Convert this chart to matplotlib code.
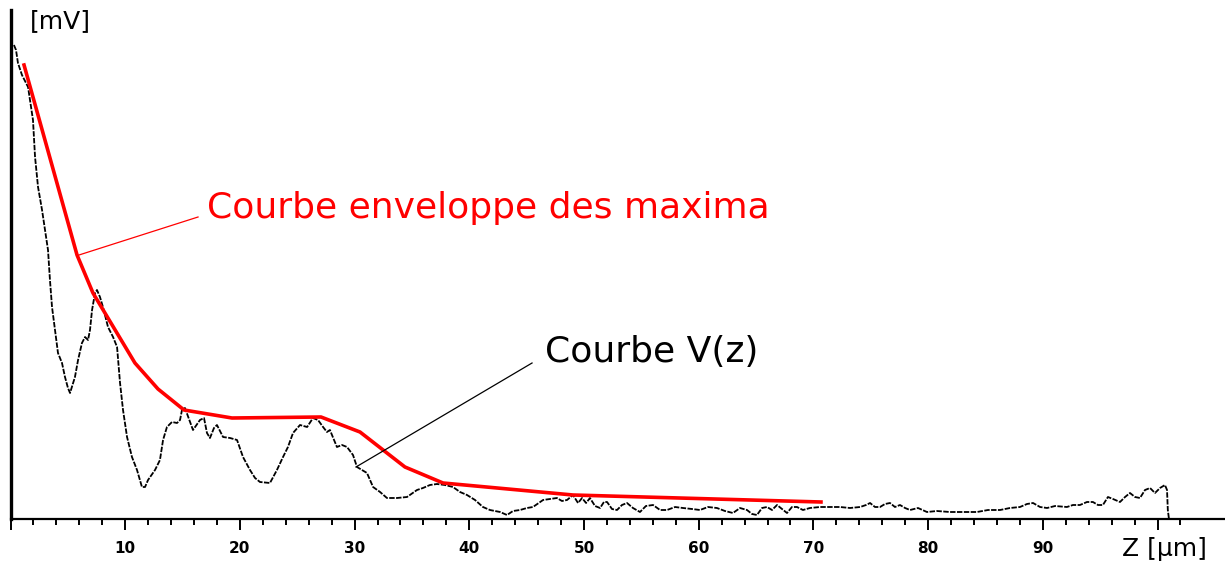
import numpy as np
import matplotlib
matplotlib.use("Agg")
import matplotlib.pyplot as plt
from matplotlib.ticker import FixedLocator

# Courbe V(z) mesuree (z en µm, V en mV)
z_mesure = [0.30, 0.48, 0.65, 1.00, 1.53, 1.96, 2.14, 2.40, 2.75, 3.01, 3.27, 3.44, 3.62, 3.88,
            4.14, 4.49, 4.75, 5.01, 5.19, 5.62, 5.89, 6.23, 6.50, 6.76, 6.93, 7.11, 7.37, 7.54,
            7.80, 8.06, 8.50, 8.94, 9.29, 9.37, 9.55, 9.81, 10.16, 10.59, 11.03, 11.46, 11.73,
            11.99, 12.60, 13.03, 13.30, 13.64, 14.08, 14.52, 14.78, 14.95, 15.21, 15.91, 16.52,
            16.87, 17.13, 17.39, 17.74, 18.00, 18.53, 19.14, 19.75, 20.27, 20.88, 21.32, 21.75,
            22.62, 23.23, 23.76, 24.19, 24.63, 25.24, 25.86, 26.37, 26.81, 27.25, 27.59, 27.85,
            28.46, 28.90, 29.34, 29.86, 30.21, 30.65, 31.08, 31.61, 32.22, 32.82, 33.70, 34.57,
            35.44, 35.96, 36.57, 37.18, 37.88, 38.58, 39.19, 39.80, 40.50, 41.19, 41.80, 42.68,
            43.29, 43.81, 44.42, 45.03, 45.55, 46.43, 47.03, 47.64, 48.08, 48.52, 49.04, 49.48,
            49.83, 50.18, 50.52, 50.96, 51.40, 51.74, 52.01, 52.44, 52.88, 53.31, 53.75, 54.27,
            54.88, 55.40, 56.02, 56.63, 57.24, 57.94, 58.63, 59.42, 60.11, 60.81, 61.59, 62.29,
            62.99, 63.60, 64.21, 64.65, 65.08, 65.52, 65.96, 66.39, 66.83, 67.26, 67.70, 68.13,
            68.57, 69.09, 69.70, 70.58, 71.45, 72.32, 73.19, 74.07, 74.59, 74.94, 75.37, 75.81,
            76.24, 76.68, 77.11, 77.55, 77.99, 78.42, 79.12, 79.90, 80.77, 81.90, 83.04, 84.26,
            85.22, 86.27, 87.14, 88.01, 88.62, 89.15, 89.76, 90.37, 91.07, 92.10, 92.63, 93.24,
            93.85, 94.37, 94.81, 95.24, 95.68, 96.12, 96.73, 97.17, 97.60, 98.04, 98.47, 98.91,
            99.35, 99.78, 100.22, 100.65, 100.83, 100.90, 101.00]
v_mesure = [94.8, 93.8, 91.2, 88.8, 86.4, 79.8, 72.4, 66.4, 61.8, 57.8, 53.8, 47.8, 42.4, 37.8,
            33.2, 31.2, 28.4, 26.2, 25.2, 28.4, 31.8, 35.2, 36.4, 35.8, 37.8, 41.8, 45.2, 45.8,
            44.4, 42.4, 38.4, 36.4, 34.4, 32.2, 27.2, 21.8, 16.4, 12.4, 9.8, 6.4, 6.4,
            7.8, 9.8, 11.8, 15.8, 18.4, 19.4, 19.2, 19.8, 21.8, 22.2, 17.8, 19.8,
            20.2, 17.2, 16.2, 18.2, 18.8, 16.4, 16.2, 15.8, 12.4, 9.8, 8.2, 7.4,
            7.2, 9.8, 12.4, 14.4, 17.2, 18.8, 18.4, 20.2, 19.8, 18.4, 17.4, 17.8,
            14.4, 14.8, 14.4, 12.8, 10.4, 9.8, 9.2, 6.4, 5.4, 4.2, 4.2, 4.4,
            5.8, 6.2, 6.8, 7.0, 6.8, 6.4, 5.4, 4.8, 3.8, 2.4, 1.8, 1.4,
            0.8, 1.6, 1.8, 2.2, 2.4, 3.8, 4.0, 4.2, 3.6, 3.8, 4.8, 3.2,
            4.2, 3.2, 4.2, 2.6, 2.2, 3.4, 3.4, 2.0, 1.8, 2.8, 3.2, 2.2,
            1.4, 2.6, 2.8, 1.8, 1.8, 2.4, 2.2, 2.0, 1.8, 2.4, 2.2, 1.6,
            1.2, 2.2, 1.8, 1.0, 0.8, 2.2, 2.4, 1.8, 2.8, 2.0, 1.2, 2.4,
            2.4, 1.8, 2.2, 2.4, 2.4, 2.4, 2.2, 2.4, 2.8, 3.2, 2.4, 2.4,
            3.0, 3.2, 2.4, 2.8, 2.2, 1.8, 2.2, 1.4, 1.6, 1.4, 1.4, 1.4,
            1.8, 1.8, 2.2, 2.4, 3.0, 3.2, 2.4, 2.2, 2.6, 2.4, 2.8, 2.8,
            3.4, 3.4, 2.8, 2.8, 4.4, 4.0, 3.4, 4.4, 5.2, 4.4, 4.2, 5.8,
            6.2, 5.2, 6.2, 6.8, 5.8, 1.8, 0.0]

# Courbe enveloppe des maxima
z_enveloppe = [1.18, 5.80, 7.19, 10.85, 12.86, 15.13, 19.31, 27.07, 30.47, 34.39, 37.71, 49.04, 70.66]
v_enveloppe = [90.8, 52.8, 45.2, 31.2, 26.0, 21.8, 20.2, 20.4, 17.4, 10.4, 7.2, 4.8, 3.4]

graduations = [10, 20, 30, 40, 50, 60, 70, 80, 90]

fig = plt.figure(figsize=(12.25, 5.62), dpi=100)
ax = fig.add_axes([10.5 / 1225, 1 - 519 / 562, 1 - 10.5 / 1225, 509 / 562])

ax.plot(z_mesure, v_mesure, color='black', lw=1.3, linestyle=(0, (3, 0.8)))
ax.plot(z_enveloppe, v_enveloppe, color='#ff0000', lw=2.6, solid_joinstyle='round')

# Legendes avec leurs traits de rappel
ax.plot([5.97, 16.35], [52.8, 60.4], color='#ff0000', lw=0.9)
ax.text(17.13, 60.2, 'Courbe enveloppe des maxima', color='#ff0000', fontsize=26,
        family='DejaVu Sans', ha='left', va='baseline')
ax.plot([30.12, 45.47], [10.4, 31.2], color='black', lw=0.9)
ax.text(46.6, 31.4, 'Courbe V(z)', color='black', fontsize=26,
        family='DejaVu Sans', ha='left', va='baseline')

ax.set_xlim(0, (1225 - 10.5) / 11.47)
ax.set_ylim(0, 101.8)

ax.spines['top'].set_visible(False)
ax.spines['right'].set_visible(False)
ax.spines['left'].set_linewidth(2.4)
ax.spines['bottom'].set_linewidth(1.6)

ax.xaxis.set_major_locator(FixedLocator(list(range(0, 101, 10))))
ax.xaxis.set_minor_locator(FixedLocator(list(range(0, 103, 2))))
ax.set_xticklabels([''] + [str(g) for g in graduations] + [''])
ax.tick_params(axis='x', which='major', direction='out', length=8, width=1.4, pad=8,
               labelsize=11)
ax.tick_params(axis='x', which='minor', direction='out', length=4, width=1.4)
for lbl in ax.get_xticklabels():
    lbl.set_fontweight('bold')
ax.set_yticks([])

fig.text(30 / 1225, 1 - 21.5 / 562, '[mV]', fontsize=18, family='DejaVu Sans',
         ha='left', va='center')
fig.text(1122 / 1225, 1 - 549 / 562, 'Z [µm]', fontsize=18, family='DejaVu Sans',
         ha='left', va='center')

fig.savefig('out.png', dpi=100)
